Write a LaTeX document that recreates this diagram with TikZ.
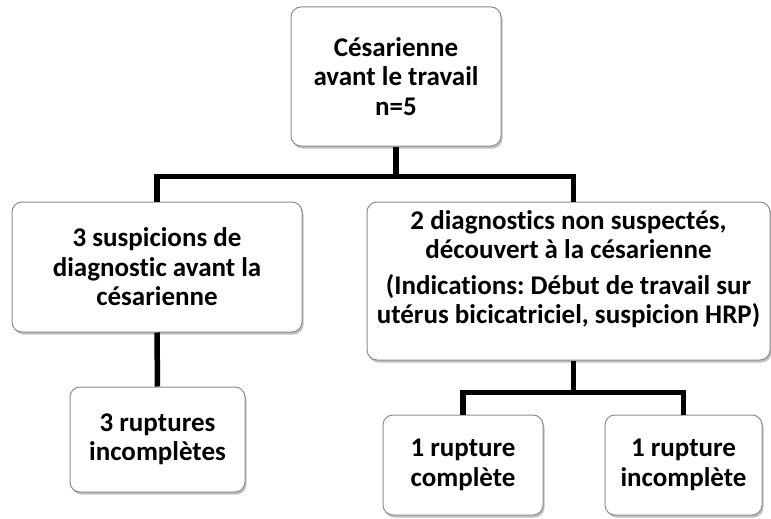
\documentclass[tikz,border=0pt]{standalone}
\usepackage{fontspec}
\setmainfont{Carlito}[Ligatures=NoCommon]
\usetikzlibrary{shadows}
\frenchspacing
\begin{document}
\begin{tikzpicture}[
   x=1pt,y=-1pt,
   cesbox/.style={draw=black!45,line width=1pt,rounded corners=10pt,fill=white,
     drop shadow={shadow xshift=1.5pt,shadow yshift=-2.5pt,opacity=0.35,fill=black!70},
     align=center,inner sep=2pt,font=\fontsize{27}{29.5}\selectfont\bfseries},
   cesline/.style={line width=5.5pt}
 ]
 \useasboundingbox (0,0) rectangle (771,519);
 % Boxes, top to bottom.
 \node[cesbox,minimum width=210pt,minimum height=139pt] (root) at (396,76.5)
   {Césarienne\\avant le travail\\n=5};
 \node[cesbox,minimum width=290pt,minimum height=130pt] (susp) at (157,267)
   {3 suspicions de\\diagnostic avant la\\césarienne};
 \node[cesbox,minimum width=403pt,minimum height=158pt] (nonsusp) at (568.5,281)
   {2 diagnostics non suspectés,\\découvert à la césarienne\\[6pt]
    (Indications: Début de travail sur\\utérus bicicatriciel, suspicion HRP)\\[-2pt]\mbox{}};
 \node[cesbox,minimum width=175pt,minimum height=105pt] (incomp) at (157.5,439.5)
   {3 ruptures\\incomplètes};
 \node[cesbox,minimum width=160pt,minimum height=100pt] (comp1) at (463,465)
   {\rule{0pt}{12pt}1 rupture\\complète};
 \node[cesbox,minimum width=157pt,minimum height=100pt] (incomp1) at (683.5,465)
   {\rule{0pt}{12pt}1 rupture\\incomplète};
 % Connectors.
 \draw[cesline] (root.south) -- ++(0,30) -| (susp.north);
 \draw[cesline] (root.south) -- ++(0,30) -| ([xshift=5pt]nonsusp.north);
 \draw[cesline] (susp.south) -- (incomp.north);
 \draw[cesline] ([xshift=5pt]nonsusp.south) -- ++(0,32) -| (comp1.north);
 \draw[cesline] ([xshift=5pt]nonsusp.south) -- ++(0,32) -| (incomp1.north);
\end{tikzpicture}
\end{document}
